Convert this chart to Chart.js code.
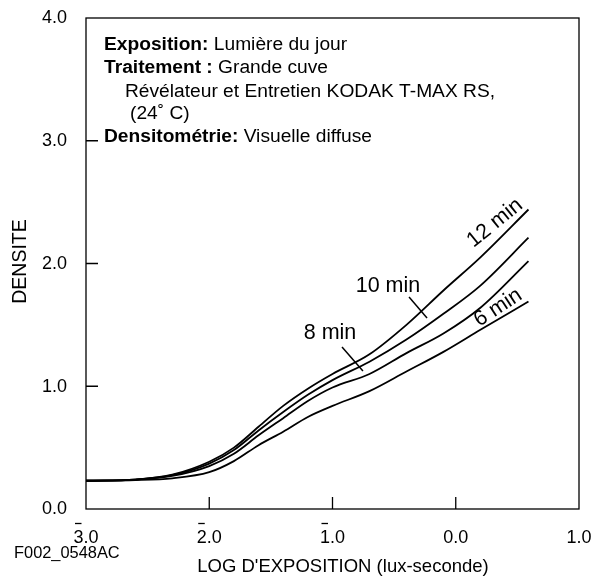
<!DOCTYPE html>
<html><head><meta charset="utf-8">
<script src="https://cdn.jsdelivr.net/npm/chart.js@4/dist/chart.umd.min.js"></script>
<style>html,body{margin:0;padding:0;background:#fff;overflow:hidden}canvas{display:block}</style>
</head><body>
<canvas id="c" width="595" height="576"></canvas>
<script>
// ---- data ----
const logExposure = [-3.0, -2.6, -2.3, -2.0, -1.8, -1.6, -1.4, -1.2, -1.0, -0.7, -0.4, -0.1, 0.2, 0.59];
const density6min  = [0.23, 0.235, 0.25, 0.30, 0.39, 0.52, 0.63, 0.75, 0.84, 0.96, 1.12, 1.28, 1.46, 1.69];
const density8min  = [0.23, 0.24, 0.27, 0.35, 0.45, 0.60, 0.74, 0.88, 0.99, 1.10, 1.27, 1.43, 1.64, 2.02];
const density10min = [0.23, 0.24, 0.275, 0.37, 0.48, 0.64, 0.79, 0.93, 1.05, 1.20, 1.38, 1.59, 1.82, 2.21];
const density12min = [0.23, 0.24, 0.28, 0.385, 0.50, 0.67, 0.84, 0.98, 1.10, 1.26, 1.50, 1.78, 2.05, 2.44];
const seriesNames = ['6 min', '8 min', '10 min', '12 min'];
const xTickValues = [-3, -2, -1, 0, 1];
const xTickLabels = ['3.0', '2.0', '1.0', '0.0', '1.0'];
const xTickBarred = [true, true, true, false, false];
const yTickValues = [0, 1, 2, 3, 4];
const yTickLabels = ['0.0', '1.0', '2.0', '3.0', '4.0'];
const xTitle = "LOG D'EXPOSITION (lux-seconde)";
const yTitle = 'DENSITE';
const figureCode = 'F002_0548AC';
const infoBold = ['Exposition:', 'Traitement :', '', '', 'Densitométrie:'];
const infoText = [' Lumière du jour', ' Grande cuve', 'Révélateur et Entretien KODAK T-MAX RS,', '(24˚ C)', ' Visuelle diffuse'];

// ---- annotation layout (data units) ----
const curveLabelCfg = [
  { text: '12 min', x: 0.318, y: 2.33, rot: -39 },
  { text: '10 min', x: -0.55, y: 1.82, rot: 0, leader: [-0.379, 1.727, -0.233, 1.556] },
  { text: '8 min', x: -1.02, y: 1.43, rot: 0, leader: [-0.923, 1.32, -0.753, 1.124] },
  { text: '6 min', x: 0.343, y: 1.64, rot: -33 }
];

const FONT = '"Liberation Sans", Arial, Helvetica, sans-serif';
const allSeries = [density6min, density8min, density10min, density12min];

const decorPlugin = {
  id: 'decor',
  afterDraw(chart) {
    const ctx = chart.ctx;
    const a = chart.chartArea;
    const xs = chart.scales.x, ys = chart.scales.y;
    ctx.save();
    ctx.strokeStyle = '#000';
    ctx.fillStyle = '#000';
    ctx.lineWidth = 1.3;
    // frame
    ctx.strokeRect(a.left, a.top, a.right - a.left, a.bottom - a.top);
    // inner ticks
    ctx.beginPath();
    yTickValues.forEach(v => {
      if (v > 0 && v < 4) { const p = ys.getPixelForValue(v); ctx.moveTo(a.left, p); ctx.lineTo(a.left + 12, p); }
    });
    xTickValues.forEach(v => {
      if (v > -3 && v < 1) { const p = xs.getPixelForValue(v); ctx.moveTo(p, a.bottom); ctx.lineTo(p, a.bottom - 12); }
    });
    ctx.stroke();
    // y tick labels
    ctx.font = '18px ' + FONT;
    ctx.textAlign = 'right';
    ctx.textBaseline = 'middle';
    yTickValues.forEach((v, i) => {
      ctx.fillText(yTickLabels[i], a.left - 19, ys.getPixelForValue(v) + 0.5);
    });
    // x tick labels with overbars
    ctx.textAlign = 'center';
    ctx.textBaseline = 'alphabetic';
    xTickValues.forEach((v, i) => {
      const p = xs.getPixelForValue(v);
      const base = a.bottom + 34;
      ctx.fillText(xTickLabels[i], p, base);
      if (xTickBarred[i]) {
        const w = ctx.measureText(xTickLabels[i]).width;
        const dw = ctx.measureText(xTickLabels[i][0]).width;
        const x0 = p - w / 2;
        ctx.beginPath();
        ctx.moveTo(x0 + 1.5, base - 19.5);
        ctx.lineTo(x0 + dw - 2, base - 19.5);
        ctx.stroke();
      }
    });
    // axis titles
    ctx.font = '18.5px ' + FONT;
    ctx.fillText(xTitle, 343, 571.5);
    ctx.save();
    ctx.translate(26, (a.top + a.bottom) / 2 - 2);
    ctx.rotate(-Math.PI / 2);
    ctx.font = '19.5px ' + FONT;
    ctx.textAlign = 'center';
    ctx.fillText(yTitle, 0, 0);
    ctx.restore();
    ctx.font = '16.4px ' + FONT;
    ctx.textAlign = 'left';
    ctx.fillText(figureCode, 14, 558);
    // info block
    const bases = [50, 73, 96.5, 118.5, 141.5];
    const lefts = [104, 104, 125, 130, 104];
    ctx.textAlign = 'left';
    infoText.forEach((t, i) => {
      let x = lefts[i];
      if (infoBold[i]) {
        ctx.font = 'bold 19.2px ' + FONT;
        ctx.fillText(infoBold[i], x, bases[i]);
        x += ctx.measureText(infoBold[i]).width;
      }
      ctx.font = '19.2px ' + FONT;
      ctx.fillText(t, x, bases[i]);
    });
    // curve labels
    ctx.font = '21.5px ' + FONT;
    ctx.textAlign = 'center';
    ctx.textBaseline = 'middle';
    curveLabelCfg.forEach(c => {
      const px = xs.getPixelForValue(c.x), py = ys.getPixelForValue(c.y);
      ctx.save();
      ctx.translate(px, py);
      ctx.rotate(c.rot * Math.PI / 180);
      ctx.fillText(c.text, 0, 0);
      ctx.restore();
      if (c.leader) {
        ctx.lineWidth = 1.5;
        ctx.beginPath();
        ctx.moveTo(xs.getPixelForValue(c.leader[0]), ys.getPixelForValue(c.leader[1]));
        ctx.lineTo(xs.getPixelForValue(c.leader[2]), ys.getPixelForValue(c.leader[3]));
        ctx.stroke();
      }
    });
    ctx.restore();
  }
};

new Chart(document.getElementById('c'), {
  type: 'line',
  data: {
    datasets: allSeries.map((arr, k) => ({
      label: seriesNames[k],
      data: logExposure.map((x, i) => ({ x: x, y: arr[i] })),
      borderColor: '#000',
      borderWidth: 1.8,
      pointRadius: 0,
      fill: false,
      cubicInterpolationMode: 'monotone'
    }))
  },
  options: {
    responsive: false,
    animation: false,
    devicePixelRatio: 1,
    layout: { padding: { top: 18, right: 16, left: 0, bottom: 0 } },
    plugins: { legend: { display: false }, tooltip: { enabled: false } },
    scales: {
      x: {
        type: 'linear', min: -3, max: 1,
        afterBuildTicks: s => { s.ticks = xTickValues.map(v => ({ value: v })); },
        ticks: { display: false },
        grid: { display: false, drawTicks: false },
        border: { display: false },
        afterFit: s => { s.height = 67; }
      },
      y: {
        type: 'linear', min: 0, max: 4,
        afterBuildTicks: s => { s.ticks = yTickValues.map(v => ({ value: v })); },
        ticks: { display: false },
        grid: { display: false, drawTicks: false },
        border: { display: false },
        afterFit: s => { s.width = 86; }
      }
    }
  },
  plugins: [decorPlugin]
});
</script>
</body></html>
